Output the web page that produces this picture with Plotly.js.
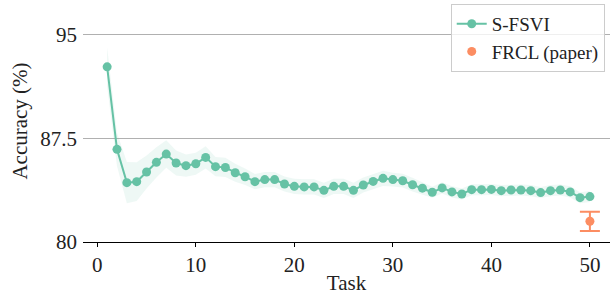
<!DOCTYPE html>
<html>
<head>
<meta charset="utf-8">
<script src="https://cdn.plot.ly/plotly-3.0.1.min.js"></script>
<style>html,body{margin:0;padding:0;background:#fff;overflow:hidden;}#chart{width:610px;height:295px;}</style>
</head>
<body>
<div id="chart"></div>
<script>
const tasks = Array.from({length: 50}, (_, i) => i + 1);
const sfsviMean = [92.69, 86.71, 84.30, 84.37, 85.07, 85.77, 86.37, 85.72, 85.53, 85.67,
  86.13, 85.46, 85.40, 85.02, 84.73, 84.37, 84.52, 84.52, 84.20, 84.03,
  83.99, 83.99, 83.74, 84.03, 84.03, 83.74, 84.13, 84.39, 84.61, 84.52,
  84.44, 84.15, 83.90, 83.60, 83.92, 83.63, 83.48, 83.79, 83.79, 83.81,
  83.72, 83.77, 83.77, 83.72, 83.58, 83.72, 83.77, 83.63, 83.21, 83.29];
const sfsviStd = [1.4, 1.2, 1.5, 1.4, 1.2, 1.1, 1.0, 0.9, 0.8, 0.8,
  0.8, 0.7, 0.7, 0.65, 0.6, 0.55, 0.55, 0.55, 0.55, 0.55,
  0.55, 0.55, 0.55, 0.55, 0.55, 0.55, 0.55, 0.55, 0.55, 0.5,
  0.5, 0.5, 0.45, 0.4, 0.4, 0.4, 0.4, 0.4, 0.4, 0.4,
  0.4, 0.4, 0.4, 0.4, 0.4, 0.4, 0.4, 0.4, 0.4, 0.4];
const frclTask = [50];
const frclMean = [81.5];
const frclErr = [0.7];
const yTicks = [80, 87.5, 95];
const yTickLabels = ['80', '87.5', '95'];
const xTicks = [0, 10, 20, 30, 40, 50];

const green = '#66c2a5', orange = '#fc8d62';
const upper = sfsviMean.map((m, i) => m + sfsviStd[i]);
const lower = sfsviMean.map((m, i) => m - sfsviStd[i]);
const font = '"Liberation Serif", "DejaVu Serif", serif';

const traces = [
  {x: tasks, y: lower, mode: 'lines', line: {width: 0}, hoverinfo: 'skip', showlegend: false},
  {x: tasks, y: upper, mode: 'lines', line: {width: 0}, fill: 'tonexty',
   fillcolor: 'rgba(102,194,165,0.11)', hoverinfo: 'skip', showlegend: false},
  {x: tasks, y: sfsviMean, mode: 'lines+markers', name: 'S-FSVI',
   line: {color: green, width: 2}, marker: {color: green, size: 9}},
  {x: frclTask, y: frclMean, mode: 'markers', name: 'FRCL (paper)',
   marker: {color: orange, size: 9},
   error_y: {type: 'data', array: frclErr, visible: true, color: orange, thickness: 2, width: 10}}
];

const layout = {
  width: 610, height: 295,
  margin: {l: 83, r: 0, t: 0, b: 52.5},
  paper_bgcolor: '#fff', plot_bgcolor: '#fff',
  font: {family: font, size: 21, color: '#222'},
  showlegend: true,
  legend: {x: 0.99, y: 0.984, xanchor: 'right', yanchor: 'top', traceorder: 'normal',
    bgcolor: 'rgba(255,255,255,0.8)', bordercolor: '#cccccc', borderwidth: 1,
    font: {family: font, size: 19, color: '#222'}, tracegroupgap: 0},
  xaxis: {range: [-1.45, 52.04], tickvals: xTicks, ticks: 'outside', ticklen: 4,
    tickcolor: '#000', showgrid: false, zeroline: false, showline: true,
    linecolor: '#000', linewidth: 1.25, tickfont: {family: font, size: 21, color: '#222'},
    title: {text: 'Task', font: {family: font, size: 21}, standoff: 4}},
  yaxis: {range: [80, 97.53], tickvals: yTicks, ticktext: yTickLabels, ticks: '',
    showgrid: true, gridcolor: '#b0b0b0', gridwidth: 1, zeroline: false, showline: false,
    ticklabelstandoff: 5, tickfont: {family: font, size: 21, color: '#222'},
    title: {text: 'Accuracy (%)', font: {family: font, size: 21}, standoff: 6}}
};

Plotly.newPlot('chart', traces, layout, {displayModeBar: false, staticPlot: true});
</script>
</body>
</html>
